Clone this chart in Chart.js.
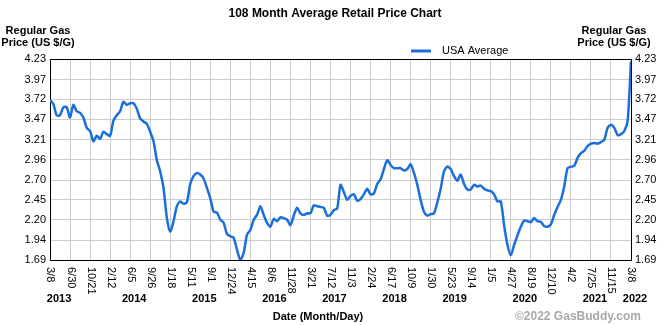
<!DOCTYPE html>
<html>
<head>
<meta charset="utf-8">
<script src="https://cdn.jsdelivr.net/npm/chart.js@4/dist/chart.umd.min.js"></script>
<style>
html, body { margin: 0; padding: 0; background: #fff; }
</style>
</head>
<body>
<canvas id="gasChart" width="670" height="325"></canvas>
<script>
// x axis: one tick every ~16 weeks, 3/8/2013 .. 3/8/2022
const dateTicks = ["3/8", "6/30", "10/21", "2/12", "6/5", "9/26", "1/18", "5/11", "9/1", "12/24",
    "4/15", "8/6", "11/28", "3/21", "7/12", "11/3", "2/24", "6/17", "10/9", "1/30",
    "5/23", "9/14", "1/5", "4/27", "8/19", "12/10", "4/2", "7/25", "11/15", "3/8"];
const years = ["2013", "2014", "2015", "2016", "2017", "2018", "2019", "2020", "2021", "2022"];
const yearAt = [0.45, 4.2, 7.7, 11.2, 14.2, 17.2, 20.2, 23.7, 27.2, 29.2]; // in tick steps
const priceTicks = ["1.69", "1.94", "2.20", "2.45", "2.70", "2.96", "3.21", "3.47", "3.72", "3.97", "4.23"];

// USA average, 6 readings per tick step
const usa2013to2014 = [3.71, 3.66, 3.52, 3.52, 3.62, 3.62, 3.49, 3.65, 3.57, 3.55, 3.49, 3.36, 3.32, 3.19, 3.26,
    3.22, 3.31, 3.28, 3.26, 3.45, 3.52, 3.57, 3.69, 3.65, 3.67, 3.67, 3.60, 3.48, 3.44, 3.41, 3.31];
const usa2015 = [3.19, 2.95, 2.81, 2.60, 2.22, 2.05, 2.18, 2.37, 2.43, 2.40, 2.42, 2.65, 2.75, 2.79, 2.77,
    2.72, 2.60, 2.47, 2.30, 2.29, 2.20, 2.16, 2.02, 1.99, 1.97, 1.82, 1.69, 1.78, 2.01, 2.07];
const usa2016to2017 = [2.20, 2.26, 2.37, 2.26, 2.16, 2.11, 2.21, 2.18, 2.23, 2.22, 2.20, 2.13, 2.25, 2.35, 2.28,
    2.26, 2.28, 2.28, 2.38, 2.37, 2.36, 2.35, 2.25, 2.26, 2.32, 2.34, 2.64, 2.55, 2.45, 2.50];
const usa2018to2019 = [2.52, 2.44, 2.46, 2.52, 2.59, 2.52, 2.53, 2.65, 2.71, 2.84, 2.95, 2.89, 2.85, 2.85, 2.85,
    2.82, 2.84, 2.90, 2.79, 2.64, 2.45, 2.30, 2.25, 2.27, 2.28, 2.42, 2.59, 2.81, 2.87, 2.84];
const usa2020 = [2.75, 2.69, 2.77, 2.65, 2.58, 2.58, 2.64, 2.62, 2.63, 2.59, 2.57, 2.56, 2.52, 2.43, 2.43,
    2.13, 1.88, 1.75, 1.88, 2.00, 2.11, 2.19, 2.18, 2.17, 2.22, 2.18, 2.17, 2.12, 2.11, 2.14];
const usa2021to2022 = [2.26, 2.36, 2.45, 2.62, 2.85, 2.87, 2.88, 2.98, 3.04, 3.07, 3.13, 3.16, 3.17, 3.16, 3.18,
    3.21, 3.36, 3.40, 3.36, 3.27, 3.28, 3.32, 3.45, 4.20];

const usaAverage = [].concat(usa2013to2014, usa2015, usa2016to2017, usa2018to2019, usa2020, usa2021to2022);
const STEP = 6;

const FONT = '"Liberation Sans", Arial, sans-serif';
const chartTitle = "108 Month Average Retail Price Chart";
const axisTitle = ["Regular Gas", "Price (US $/G)"];

const frame = {
    id: "frame",
    afterDraw(chart) {
        const { ctx, chartArea: a, scales } = chart;
        ctx.save();

        // top border
        ctx.strokeStyle = "#000";
        ctx.lineWidth = 1;
        ctx.beginPath();
        ctx.moveTo(a.left, a.top + 0.5);
        ctx.lineTo(a.right + 1, a.top + 0.5);
        ctx.stroke();

        ctx.fillStyle = "#000";
        ctx.textBaseline = "alphabetic";
        ctx.textAlign = "center";
        ctx.font = "bold 12px " + FONT;
        ctx.fillText(chartTitle, chart.width / 2, 17);

        ctx.font = "bold 11px " + FONT;
        axisTitle.forEach((t, i) => {
            ctx.fillText(t, 38, 34 + i * 12);
            ctx.fillText(t, 614, 34 + i * 12);
        });

        // legend
        ctx.strokeStyle = chart.data.datasets[0].borderColor;
        ctx.lineWidth = 3;
        ctx.beginPath();
        ctx.moveTo(411, 51);
        ctx.lineTo(431, 51);
        ctx.stroke();
        ctx.textAlign = "left";
        ctx.font = "11px " + FONT;
        ctx.fillText(chart.data.datasets[0].label, 442, 54);

        // rotated date labels
        ctx.textBaseline = "middle";
        dateTicks.forEach((t, i) => {
            const x = scales.x.getPixelForValue(i * STEP);
            ctx.save();
            ctx.translate(x + 0.5, a.bottom + 7);
            ctx.rotate(Math.PI / 2);
            ctx.fillText(t, 0, 0);
            ctx.restore();
        });

        ctx.textBaseline = "alphabetic";
        ctx.textAlign = "center";
        ctx.font = "bold 11px " + FONT;
        years.forEach((t, i) => {
            ctx.fillText(t, scales.x.getPixelForValue(yearAt[i] * STEP), 302);
        });
        ctx.fillText("Date (Month/Day)", 318, 320);

        ctx.fillStyle = "#a9a9a9";
        ctx.textAlign = "right";
        ctx.font = "bold 12px " + FONT;
        ctx.fillText("\u00a92022 GasBuddy.com", 641, 320);

        ctx.restore();
    }
};

const tickFont = { family: FONT, size: 11 };

new Chart(document.getElementById("gasChart"), {
    type: "line",
    data: {
        datasets: [{
            label: "USA Average",
            data: usaAverage.map((v, i) => ({ x: i, y: v })),
            borderColor: "#1a6fdb",
            borderWidth: 2.5,
            pointRadius: 0,
            tension: 0.25,
            yAxisID: "y"
        }]
    },
    options: {
        responsive: false,
        animation: false,
        devicePixelRatio: 1,
        layout: { padding: { top: 59, left: 0, right: 0, bottom: 0 } },
        plugins: {
            legend: { display: false },
            title: { display: false },
            tooltip: { enabled: false }
        },
        scales: {
            x: {
                type: "linear",
                min: 0,
                max: usaAverage.length - 1,
                afterBuildTicks: s => { s.ticks = dateTicks.map((_, i) => ({ value: i * STEP })); },
                afterFit: s => { s.height = 65; },
                ticks: { display: false },
                grid: { color: "#cccccc", lineWidth: 1, drawTicks: false },
                border: { color: "#000", width: 1 }
            },
            y: {
                position: "left",
                min: 1.69,
                max: 4.23,
                afterBuildTicks: s => { s.ticks = priceTicks.map(v => ({ value: +v })); },
                afterFit: s => { s.width = 50; },
                ticks: { font: tickFont, color: "#000", padding: 4, callback: (v, i) => priceTicks[i] },
                grid: { color: "#cccccc", lineWidth: 1, drawTicks: false },
                border: { color: "#000", width: 1 }
            },
            y2: {
                position: "right",
                min: 1.69,
                max: 4.23,
                afterBuildTicks: s => { s.ticks = priceTicks.map(v => ({ value: +v })); },
                afterFit: s => { s.width = 39; },
                ticks: { font: tickFont, color: "#000", padding: 4, callback: (v, i) => priceTicks[i] },
                grid: { drawOnChartArea: false, drawTicks: false },
                border: { color: "#000", width: 1 }
            }
        }
    },
    plugins: [frame]
});
</script>
</body>
</html>
